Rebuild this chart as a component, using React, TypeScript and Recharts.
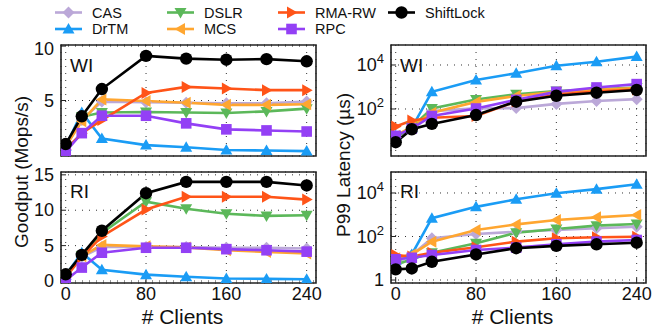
import React from "react";
import { LineChart, Line, XAxis, YAxis, CartesianGrid, ReferenceArea } from "recharts";

const clients = [0, 16, 36, 80, 120, 160, 200, 240];
const seriesNames = ["CAS", "DrTM", "DSLR", "MCS", "RMA-RW", "RPC", "ShiftLock"];

// Goodput (Mops/s), write-intensive
const goodputWI: Record<string, number[]> = {
  CAS:         [0.8, 3.2, 4.9, 4.85, 4.8, 4.75, 4.75, 4.9],
  DrTM:        [0.8, 3.9, 1.5, 0.9, 0.7, 0.45, 0.4, 0.35],
  DSLR:        [0.8, 3.5, 3.9, 3.95, 3.9, 3.85, 4.0, 4.25],
  MCS:         [0.8, 3.1, 5.1, 4.95, 4.8, 4.6, 4.6, 4.65],
  "RMA-RW":    [0.5, 2.0, 3.2, 5.7, 6.25, 6.1, 5.95, 5.95],
  RPC:         [0.3, 2.0, 3.6, 3.6, 2.9, 2.35, 2.25, 2.15],
  ShiftLock:   [1.0, 3.55, 6.05, 9.1, 8.85, 8.75, 8.8, 8.6],
};

// Goodput (Mops/s), read-intensive
const goodputRI: Record<string, number[]> = {
  CAS:         [0.8, 3.4, 4.8, 4.8, 4.8, 4.7, 4.7, 4.6],
  DrTM:        [0.8, 4.0, 1.6, 0.9, 0.6, 0.35, 0.3, 0.25],
  DSLR:        [0.8, 3.6, 6.8, 11.2, 10.2, 9.5, 9.2, 9.3],
  MCS:         [0.8, 3.5, 5.1, 4.9, 4.75, 4.35, 4.1, 3.9],
  "RMA-RW":    [0.5, 3.4, 6.3, 10.1, 11.9, 11.9, 11.9, 11.5],
  RPC:         [0.1, 1.9, 4.0, 4.7, 4.7, 4.5, 4.35, 4.15],
  ShiftLock:   [0.95, 3.7, 7.1, 12.4, 14.0, 14.0, 14.0, 13.5],
};

// P99 latency (us), write-intensive
const latencyWI: Record<string, number[]> = {
  CAS:         [5, 14, 80, 107, 110, 170, 230, 280],
  DrTM:        [6, 14, 600, 2100, 4200, 9300, 14000, 24000],
  DSLR:        [5, 15, 105, 270, 470, 650, 790, 950],
  MCS:         [6, 16, 68, 210, 390, 600, 750, 900],
  "RMA-RW":    [16, 30, 40, 48, 220, 450, 620, 760],
  RPC:         [6, 13, 48, 105, 260, 600, 950, 1350],
  ShiftLock:   [3.1, 12, 21, 53, 215, 400, 550, 730],
};

// P99 latency (us), read-intensive
const latencyRI: Record<string, number[]> = {
  CAS:         [6, 14, 83, 130, 165, 200, 240, 280],
  DrTM:        [8, 15, 690, 2300, 5100, 9700, 15000, 25000],
  DSLR:        [5, 9, 18, 49, 150, 220, 315, 375],
  MCS:         [10, 15, 58, 200, 360, 570, 760, 980],
  "RMA-RW":    [14, 12, 18, 32, 58, 83, 92, 98],
  RPC:         [9, 10.5, 14, 24, 31, 44, 58, 69],
  ShiftLock:   [3.1, 3.4, 6.9, 15, 29, 37, 44, 52],
};

const xTicks = [0, 80, 160, 240];
const xMinorTicks = [0, 20, 40, 60, 80, 100, 120, 140, 160, 180, 200, 220, 240];
const logTicks = [1, 10, 100, 1000, 10000];

const STYLE: Record<string, { color: string; shape: string }> = {
  CAS: { color: "#bba8d8", shape: "diamond" },
  DrTM: { color: "#1a9cf5", shape: "up" },
  DSLR: { color: "#5cb85a", shape: "down" },
  MCS: { color: "#ffa630", shape: "left" },
  "RMA-RW": { color: "#ff5418", shape: "right" },
  RPC: { color: "#9340f5", shape: "square" },
  ShiftLock: { color: "#000000", shape: "circle" },
};

const FONT = "'Liberation Sans', Arial, Helvetica, sans-serif";
const X_DOMAIN: [number, number] = [-4.7, 249.3];

function Mark({ cx, cy, shape, color }: { cx: number; cy: number; shape: string; color: string }) {
  if (cx == null || cy == null) return null;
  const s = 6;
  if (shape === "circle") return <circle cx={cx} cy={cy} r={6.2} fill={color} />;
  if (shape === "square") return <rect x={cx - 5.3} y={cy - 5.3} width={10.6} height={10.6} fill={color} />;
  let pts = "";
  if (shape === "diamond") pts = `${cx},${cy - s} ${cx + s},${cy} ${cx},${cy + s} ${cx - s},${cy}`;
  if (shape === "up") pts = `${cx},${cy - s} ${cx + s},${cy + 4.5} ${cx - s},${cy + 4.5}`;
  if (shape === "down") pts = `${cx},${cy + s} ${cx + s},${cy - 4.5} ${cx - s},${cy - 4.5}`;
  if (shape === "left") pts = `${cx - s},${cy} ${cx + 4.5},${cy - s} ${cx + 4.5},${cy + s}`;
  if (shape === "right") pts = `${cx + s},${cy} ${cx - 4.5},${cy - s} ${cx - 4.5},${cy + s}`;
  return <polygon points={pts} fill={color} />;
}

function rows(table: Record<string, number[]>) {
  return clients.map((c, i) => {
    const r: Record<string, number> = { clients: c };
    seriesNames.forEach((n) => (r[n] = table[n][i]));
    return r;
  });
}

const EmptyTick = () => <g />;

function LinTick({ x, y, payload }: any) {
  return (
    <text x={x} y={y} textAnchor="end" dominantBaseline="central" fontSize={18} fill="#111" fontFamily={FONT}>
      {payload.value}
    </text>
  );
}

function LogTick({ x, y, payload }: any) {
  const v = payload.value;
  const exp = Math.round(Math.log10(v));
  if (exp === 0)
    return (
      <text x={x} y={y} textAnchor="end" dominantBaseline="central" fontSize={18} fill="#111" fontFamily={FONT}>
        1
      </text>
    );
  if (exp % 2 === 1) return <g />;
  return (
    <text x={x} y={y + 6} textAnchor="end" fontSize={18} fill="#111" fontFamily={FONT}>
      10<tspan dy={-8} fontSize={13}>{exp}</tspan>
    </text>
  );
}

function XTick({ x, y, payload }: any) {
  return (
    <text x={x} y={y} textAnchor="middle" dominantBaseline="hanging" fontSize={18} fill="#111" fontFamily={FONT}>
      {payload.value}
    </text>
  );
}

interface PanelProps {
  table: Record<string, number[]>;
  log: boolean;
  domain: [number, number];
  ticks: number[];
  minorTicks?: number[];
  bottom: boolean;
  left: number;
  top: number;
  width: number;
  height: number;
  marginTop: number;
  marginRight: number;
}

function Panel(p: PanelProps) {
  const data = rows(p.table);
  return (
    <div style={{ position: "absolute", left: p.left, top: p.top }}>
      <LineChart
        width={p.width}
        height={p.height}
        data={data}
        margin={{ top: p.marginTop, right: p.marginRight, bottom: p.bottom ? 0 : 2, left: 0 }}
      >
        <CartesianGrid stroke="#333" strokeDasharray="1 6" strokeWidth={1} />
        <XAxis
          xAxisId="minor"
          dataKey="clients"
          type="number"
          domain={X_DOMAIN}
          allowDataOverflow
          ticks={xMinorTicks}
          tick={EmptyTick}
          tickSize={-3}
          axisLine={false}
          tickLine={{ stroke: "#222" }}
          height={0}
        />
        <XAxis
          dataKey="clients"
          type="number"
          domain={X_DOMAIN}
          allowDataOverflow
          ticks={xTicks}
          tick={p.bottom ? XTick : EmptyTick}
          tickSize={-5}
          tickMargin={9}
          axisLine={false}
          tickLine={{ stroke: "#222" }}
          height={p.bottom ? 48 : 0}
        />
        {p.minorTicks && (
          <YAxis
            yAxisId="minor"
            type="number"
            domain={p.domain}
            allowDataOverflow
            ticks={p.minorTicks}
            tick={EmptyTick}
            tickSize={-3}
            axisLine={false}
            tickLine={{ stroke: "#222" }}
            width={0}
          />
        )}
        <YAxis
          type="number"
          scale={p.log ? "log" : "linear"}
          domain={p.domain}
          allowDataOverflow
          ticks={p.ticks}
          tick={p.log ? LogTick : LinTick}
          tickSize={-5}
          tickMargin={12}
          axisLine={false}
          tickLine={{ stroke: "#222" }}
          width={61}
        />
        <ReferenceArea
          x1={X_DOMAIN[0]}
          x2={X_DOMAIN[1]}
          y1={p.domain[0]}
          y2={p.domain[1]}
          ifOverflow="visible"
          fill="none"
          stroke="#222"
          strokeWidth={1.6}
        />
        {seriesNames.map((n) => (
          <Line
            key={n}
            dataKey={n}
            type="linear"
            stroke={STYLE[n].color}
            strokeWidth={2.6}
            isAnimationActive={false}
            activeDot={false}
            dot={(d: any) => (
              <Mark key={`${n}-${d.index}`} cx={d.cx} cy={d.cy} shape={STYLE[n].shape} color={STYLE[n].color} />
            )}
          />
        ))}
      </LineChart>
    </div>
  );
}

const legendCols = [
  { x: 55, items: ["CAS", "DrTM"] },
  { x: 167, items: ["DSLR", "MCS"] },
  { x: 278, items: ["RMA-RW", "RPC"] },
  { x: 388, items: ["ShiftLock"] },
];

function Overlay() {
  return (
    <svg
      width={657}
      height={331}
      style={{ position: "absolute", left: 0, top: 0, pointerEvents: "none" }}
      fontFamily={FONT}
    >
      {legendCols.map((col) =>
        col.items.map((n, r) => {
          const y = r === 0 ? 12.5 : 29;
          return (
            <g key={n}>
              <line x1={col.x} x2={col.x + 27} y1={y} y2={y} stroke={STYLE[n].color} strokeWidth={2.6} />
              <Mark cx={col.x + 13.5} cy={y} shape={STYLE[n].shape} color={STYLE[n].color} />
              <text x={col.x + 37} y={y} dominantBaseline="central" fontSize={14.5} fill="#111">
                {n}
              </text>
            </g>
          );
        })
      )}
      <text
        transform="translate(21,172) rotate(-90)"
        textAnchor="middle"
        dominantBaseline="central"
        fontSize={19}
        fill="#111"
      >
        Goodput (Mops/s)
      </text>
      <text
        transform="translate(343,165) rotate(-90)"
        textAnchor="middle"
        dominantBaseline="central"
        fontSize={19}
        fill="#111"
      >
        P99 Latency (µs)
      </text>
      <text x={182.5} y={316} textAnchor="middle" dominantBaseline="central" fontSize={21} fill="#111">
        # Clients
      </text>
      <text x={512.5} y={316} textAnchor="middle" dominantBaseline="central" fontSize={21} fill="#111">
        # Clients
      </text>
      <text x={70} y={65} dominantBaseline="central" fontSize={19} fill="#111">WI</text>
      <text x={400} y={65} dominantBaseline="central" fontSize={19} fill="#111">WI</text>
      <text x={70} y={191} dominantBaseline="central" fontSize={19} fill="#111">RI</text>
      <text x={400} y={191} dominantBaseline="central" fontSize={19} fill="#111">RI</text>
    </svg>
  );
}

export default function App() {
  return (
    <div style={{ position: "absolute", left: 0, top: 0, width: 657, height: 331, background: "#fff" }}>
      <Panel
        table={goodputWI}
        log={false}
        domain={[-0.1, 10.1]}
        ticks={[0, 5, 10]}
        minorTicks={[0, 1, 2, 3, 4, 5, 6, 7, 8, 9, 10]}
        bottom={false}
        left={0}
        top={40}
        width={330}
        height={118}
        marginTop={5}
        marginRight={14}
      />
      <Panel
        table={goodputRI}
        log={false}
        domain={[-0.28, 15.4]}
        ticks={[0, 5, 10, 15]}
        minorTicks={[0, 1, 2, 3, 4, 5, 6, 7, 8, 9, 10, 11, 12, 13, 14, 15]}
        bottom={true}
        left={0}
        top={160}
        width={330}
        height={171}
        marginTop={12}
        marginRight={14}
      />
      <Panel
        table={latencyWI}
        log={true}
        domain={[0.73, 81000]}
        ticks={logTicks}
        bottom={false}
        left={330}
        top={40}
        width={327}
        height={118}
        marginTop={5}
        marginRight={11}
      />
      <Panel
        table={latencyRI}
        log={true}
        domain={[0.73, 92000]}
        ticks={logTicks}
        bottom={true}
        left={330}
        top={160}
        width={327}
        height={171}
        marginTop={12}
        marginRight={11}
      />
      <Overlay />
    </div>
  );
}
